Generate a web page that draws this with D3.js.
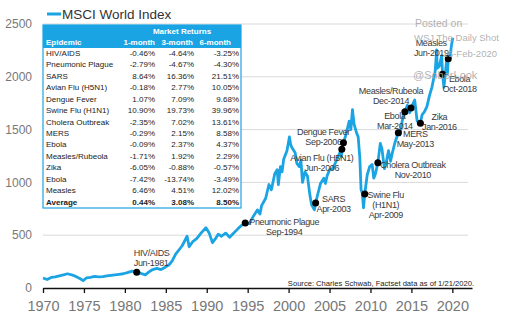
<!DOCTYPE html>
<html lang="en">
<head>
  <meta charset="utf-8" />
  <title>MSCI World Index and epidemics</title>
  <script src="https://cdn.jsdelivr.net/npm/d3@7/dist/d3.min.js"></script>
  <style>
    html,body{margin:0;padding:0;background:#fff;}
    svg{display:block;font-family:"Liberation Sans",Arial,sans-serif;}
  </style>
</head>
<body>
<svg id="chart" width="509" height="325"></svg>
<script>
// ----- index series (decimal year, index level) -----
const years = [1970,1970.5,1971,1971.5,1972,1972.5,1973,1973.5,1974,1974.5,1974.9,1975.3,1975.8,1976.3,1976.8,1977.3,1977.8,1978.3,1978.8,1979.3,1979.8,1980.3,1980.9,1981.45,1981.9,1982.5,1982.9,1983.4,1983.9,1984.4,1984.9,1985.4,1985.8,1986.2,1986.6,1987,1987.6,1987.85,1988.3,1988.8,1989.3,1989.9,1990.3,1990.7,1991,1991.4,1991.8,1992.3,1992.8,1993.3,1993.8,1994.2,1994.7,1995.2,1995.7,1996.2,1996.5,1996.7,1997.2,1997.6,1997.9,1998.3,1998.6,1998.75,1999,1999.2,1999.4,1999.8,2000.1,2000.25,2000.4,2000.8,2001,2001.3,2001.5,2001.7,2002,2002.3,2002.6,2002.8,2003.15,2003.3,2003.6,2003.9,2004.3,2004.5,2004.7,2005,2005.4,2005.8,2006.3,2006.45,2006.5,2006.7,2007,2007.4,2007.6,2007.8,2008,2008.3,2008.5,2008.7,2008.85,2009,2009.15,2009.3,2009.6,2009.9,2010.2,2010.4,2010.6,2010.9,2011.2,2011.4,2011.7,2011.9,2012.2,2012.45,2012.7,2013,2013.4,2013.6,2013.9,2014.2,2014.5,2014.8,2014.95,2015.4,2015.7,2016.1,2016.3,2016.6,2016.9,2017.2,2017.5,2017.9,2018.08,2018.15,2018.4,2018.7,2018.8,2018.97,2019.2,2019.3,2019.4,2019.5,2019.7,2019.9,2020.05];
const levels = [95,80,100,105,115,125,135,125,110,90,70,95,100,110,105,108,115,120,125,130,135,145,160,150,140,125,150,175,185,175,195,220,260,320,360,400,490,390,440,470,520,570,520,430,460,510,490,520,480,520,560,590,615,610,680,740,700,780,850,980,930,1080,1120,980,1150,1100,1220,1300,1430,1360,1330,1280,1180,1150,1210,1000,1100,1060,880,790,740,805,900,990,1040,990,1060,1120,1130,1200,1290,1240,1315,1375,1450,1580,1500,1690,1550,1470,1430,1230,930,900,760,890,1070,1150,1170,1040,1080,1185,1370,1320,1130,1180,1300,1200,1290,1380,1470,1450,1590,1670,1730,1660,1705,1780,1580,1560,1640,1670,1720,1820,1900,2050,2255,2080,2100,2200,2025,1900,2080,2150,2030,2170,2180,2300,2370];

// ----- epidemic events on the line -----
const eventNames  = ['HIV/AIDS','Pneumonic Plague','SARS','Avian Flu (H5N1)','Dengue Fever','Swine Flu|(H1N1)','Cholera Outbreak','MERS','Ebola','Measles/Rubeola','Zika','Ebola','Measles'];
const eventDates  = ['Jun-1981','Sep-1994','Apr-2003','Jun-2006','Sep-2006','Apr-2009','Nov-2010','May-2013','Mar-2014','Dec-2014','Jan-2016','Oct-2018','Jun-2019'];
const eventYears  = [1981.45,1994.7,2003.3,2006.5,2006.7,2009.3,2010.9,2013.4,2014.2,2014.95,2016.1,2018.8,2019.5];
const eventLevels = [150,615,805,1315,1375,890,1185,1470,1670,1705,1560,2025,2170];

// ----- table -----
const epidemics  = ['HIV/AIDS','Pneumonic Plague','SARS','Avian Flu (H5N1)','Dengue Fever','Swine Flu (H1N1)','Cholera Outbreak','MERS','Ebola','Measles/Rubeola','Zika','Ebola','Measles','Average'];
const oneMonth   = ['-0.46%','-2.79%','8.64%','-0.18%','1.07%','10.90%','-2.35%','-0.29%','-0.09%','-1.71%','-6.05%','-7.42%','6.46%','0.44%'];
const threeMonth = ['-4.64%','-4.67%','16.36%','2.77%','7.09%','19.73%','7.02%','2.15%','2.37%','1.92%','-0.88%','-13.74%','4.51%','3.08%'];
const sixMonth   = ['-3.25%','-4.30%','21.51%','10.05%','9.68%','39.96%','13.61%','8.58%','4.37%','2.29%','-0.57%','-3.49%','12.02%','8.50%'];
const colHeads   = ['1-month','3-month','6-month'];

const xTicks = [1970,1975,1980,1985,1990,1995,2000,2005,2010,2015,2020];
const yTicks = [0,500,1000,1500,2000,2500];

const blue = '#1ba4e3';
const svg = d3.select('#chart');

const x = d3.scaleLinear().domain([1970, 2022.4]).range([43, 472]);
const y = d3.scaleLinear().domain([0, 2500]).range([288, 24]);

// grid + y labels
svg.append('g').selectAll('line').data(yTicks.slice(1)).join('line')
  .attr('x1', 43).attr('x2', 468).attr('y1', d => y(d)).attr('y2', d => y(d))
  .attr('stroke', '#d9d9d9').attr('stroke-width', 1);
svg.append('g').selectAll('text').data(yTicks).join('text')
  .attr('x', 32).attr('y', d => y(d)).attr('dy', '0.35em').attr('text-anchor', 'end')
  .attr('font-size', 12).attr('fill', '#777').text(d => d);

// x axis
const xa = svg.append('g').attr('transform', 'translate(0,288)')
  .call(d3.axisBottom(x).tickValues(xTicks).tickFormat(d3.format('d')).tickSize(5).tickSizeOuter(0));
xa.select('.domain').attr('stroke', '#111').attr('stroke-width', 1.6);
xa.selectAll('.tick line').attr('stroke', '#111').attr('stroke-width', 1.3);
xa.selectAll('.tick text').attr('font-size', 14.5).attr('fill', '#777')
  .attr('font-family', '"Liberation Sans",Arial,sans-serif').attr('dy', '1.05em');

// series line
const series = years.map((yr, i) => [yr, levels[i]]);
svg.append('path').datum(series)
  .attr('fill', 'none').attr('stroke', blue).attr('stroke-width', 2.8)
  .attr('stroke-linejoin', 'round')
  .attr('d', d3.line().x(d => x(d[0])).y(d => y(d[1])));

// event dots + labels (offsets from dot: dx, dy of first line, anchor)
const labelOffsets = [[-3,-19,'start'],[39,-1,'middle'],[18,-4,'middle'],[-20,9,'middle'],[-20,-11,'middle'],
  [21,1,'middle'],[35,2,'middle'],[17,1,'middle'],[-10,4,'middle'],[-20,-17,'middle'],[19,-6,'middle'],[17,5,'middle'],[-17,-16,'middle']];
const ev = svg.append('g');
eventNames.forEach((name, i) => {
  const cx = x(eventYears[i]), cy = y(eventLevels[i]);
  const [dx, dy, anchor] = labelOffsets[i];
  const lines = name.split('|').concat([eventDates[i]]);
  lines.forEach((ln, j) => {
    ev.append('text').attr('x', cx + dx).attr('y', cy + dy + j * 10).attr('dy', '0.35em')
      .attr('text-anchor', anchor).attr('font-size', 9).attr('letter-spacing', -0.35).attr('fill', '#3a3a3a')
      .text(ln);
  });
});
ev.selectAll('circle').data(eventNames).join('circle')
  .attr('cx', (d, i) => x(eventYears[i])).attr('cy', (d, i) => y(eventLevels[i]))
  .attr('r', 3.5).attr('fill', '#000');

// legend
svg.append('line').attr('x1', 47).attr('x2', 61).attr('y1', 14).attr('y2', 14)
  .attr('stroke', blue).attr('stroke-width', 3);
svg.append('text').attr('x', 62).attr('y', 14).attr('dy', '0.35em')
  .attr('font-size', 13.5).attr('fill', '#333').text('MSCI World Index');

// table
const tb = svg.append('g');
const tx0 = 43, tx1 = 241, ty0 = 25, ty1 = 208;
tb.append('rect').attr('x', tx0).attr('y', ty0).attr('width', tx1 - tx0).attr('height', ty1 - ty0)
  .attr('fill', '#fff').attr('stroke', blue).attr('stroke-width', 1.2);
tb.append('rect').attr('x', tx0).attr('y', ty0).attr('width', tx1 - tx0).attr('height', 23).attr('fill', blue);
tb.append('text').attr('x', 182).attr('y', 31).attr('dy', '0.35em').attr('text-anchor', 'middle')
  .attr('font-size', 8).attr('font-weight', 'bold').attr('fill', '#fff').text('Market Returns');
tb.append('text').attr('x', 46).attr('y', 42).attr('dy', '0.35em')
  .attr('font-size', 8).attr('font-weight', 'bold').attr('fill', '#fff').text('Epidemic');
const colX = [155, 194, 239];
const headX = [155, 193, 231];
colHeads.forEach((h, i) => {
  tb.append('text').attr('x', headX[i]).attr('y', 42).attr('dy', '0.35em').attr('text-anchor', 'end')
    .attr('font-size', 8).attr('font-weight', 'bold').attr('fill', '#fff').text(h);
});
const rowY = d3.scaleLinear().domain([0, epidemics.length - 1]).range([53, 202]);
const cols = [oneMonth, threeMonth, sixMonth];
epidemics.forEach((e, r) => {
  const bold = r === epidemics.length - 1 ? 'bold' : 'normal';
  tb.append('text').attr('x', 46).attr('y', rowY(r)).attr('dy', '0.35em')
    .attr('font-size', 8).attr('font-weight', bold).attr('fill', '#222').text(e);
  cols.forEach((c, k) => {
    tb.append('text').attr('x', colX[k]).attr('y', rowY(r)).attr('dy', '0.35em').attr('text-anchor', 'end')
      .attr('font-size', 8).attr('font-weight', bold).attr('fill', '#222').text(c[r]);
  });
});

// source note
svg.append('text').attr('x', 474).attr('y', 283).attr('dy', '0.35em').attr('text-anchor', 'end')
  .attr('font-size', 7.6).attr('fill', '#222').text('Source: Charles Schwab, Factset data as of 1/21/2020.');

// watermark
const wm = svg.append('g').attr('fill', '#a8a8a8').attr('fill-opacity', 0.9);
wm.append('text').attr('x', 415).attr('y', 23).attr('dy', '0.35em').attr('font-size', 10.5).text('Posted on');
wm.append('text').attr('x', 414).attr('y', 38).attr('dy', '0.35em').attr('font-size', 9.5).text('WSJ The Daily Shot');
wm.append('text').attr('x', 497).attr('y', 54).attr('dy', '0.35em').attr('text-anchor', 'end').attr('font-size', 9.5).text('15-Feb-2020');
wm.append('text').attr('x', 413).attr('y', 75).attr('dy', '0.35em').attr('font-size', 11).text('@SoberLook');
</script>
</body>
</html>
